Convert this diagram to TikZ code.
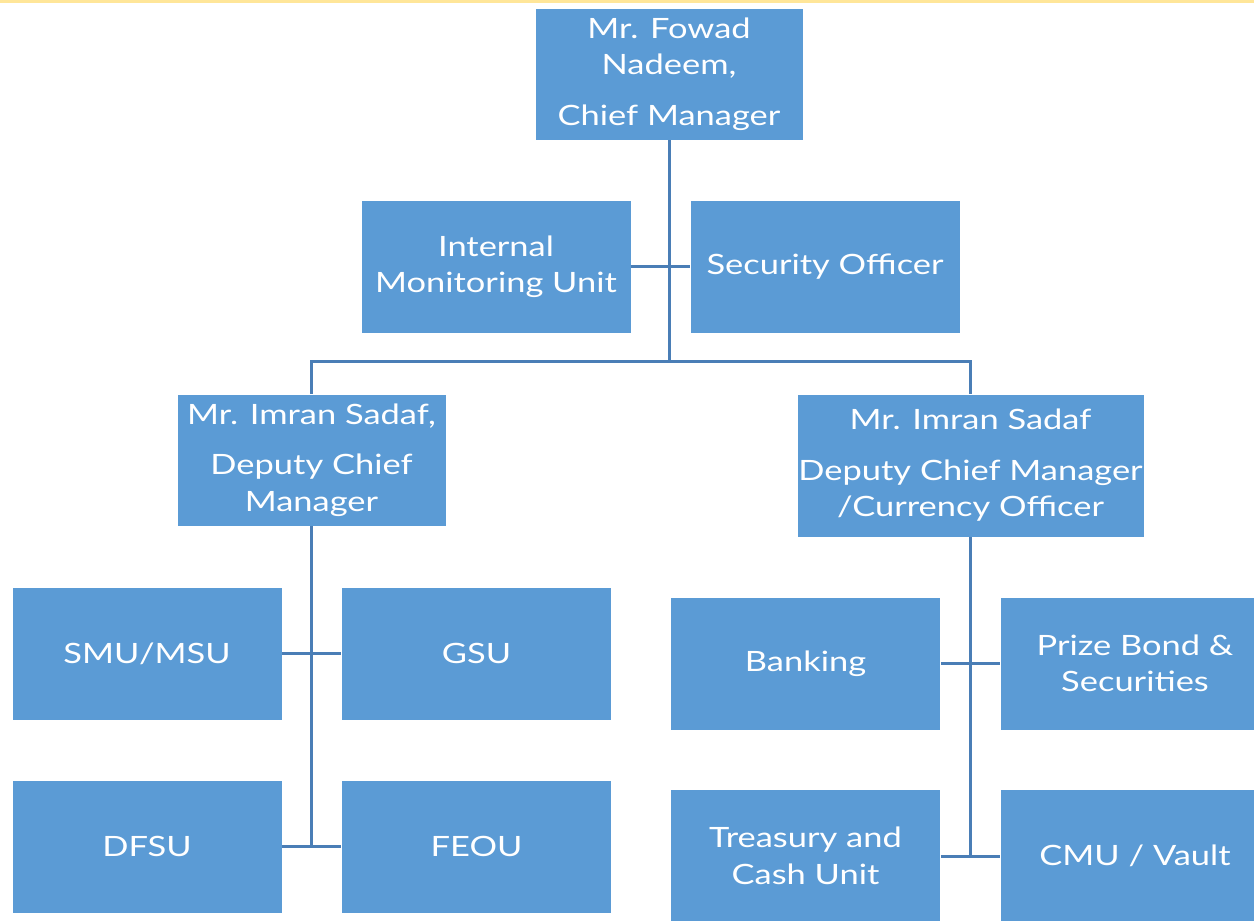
\documentclass[tikz,border=0pt]{standalone}
\usepackage{fontspec}
\setmainfont{Lato}[FakeStretch=1.23]
\definecolor{boxblue}{HTML}{5B9BD5}
\definecolor{lineblue}{HTML}{4A7EB6}
\definecolor{topyellow}{HTML}{FFE699}
\begin{document}
\begin{tikzpicture}[x=1pt,y=-1pt]
        \tikzstyle{unit}=[fill=boxblue,draw=white,line width=0.8pt,text=white,align=center,inner sep=0pt,minimum width=270pt,minimum height=133pt,font=\fontsize{28}{36.5}\selectfont]
        \tikzstyle{link}=[draw=lineblue,line width=3pt]
        \useasboundingbox (0,0) rectangle (1254,921);
        \clip (0,0) rectangle (1254,921);
        \fill[white] (0,0) rectangle (1254,921);
        \draw[topyellow,line width=3pt] (0,1.5) -- (1254,1.5);
        % top level
        \node[unit,minimum width=268pt,minimum height=132pt] (chief) at (669,74) {Mr. Fowad\\Nadeem,\\[14pt]Chief Manager};
        \node[unit] (imu) at (496,266.5) {Internal\\Monitoring Unit};
        \node[unit] (sec) at (825,266.5) {Security Officer};
        \coordinate (split) at (669,361);
        % deputies
        \node[unit,minimum width=269pt,minimum height=132pt] (dleft) at (311.5,460) {Mr. Imran Sadaf,\\[14pt]Deputy Chief\\Manager};
        \node[unit,minimum width=347pt,minimum height=143pt] (dright) at (970.5,465.5) {Mr. Imran Sadaf\\[14pt]Deputy Chief Manager\\/Currency Officer};
        % left units
        \node[unit] (smu) at (147,653.5) {SMU/MSU};
        \node[unit] (gsu) at (476.5,653.5) {GSU};
        \node[unit] (dfsu) at (147,846.5) {DFSU};
        \node[unit] (feou) at (476.5,846.5) {FEOU};
        \coordinate (lend) at (311.5,846.5);
        % right units
        \node[unit] (banking) at (805.5,663.5) {Banking};
        \node[unit] (prize) at (1135,663.5) {Prize Bond \&\\Securities};
        \node[unit] (treasury) at (805.5,856) {Treasury and\\Cash Unit};
        \node[unit] (cmu) at (1135,856) {CMU / Vault};
        \coordinate (rend) at (970.5,856);
        % connectors
        \draw[link] (chief.south) -- (split);
        \draw[link] (imu.east) -- (sec.west);
        \draw[link] (dleft.north) |- (split) -| (dright.north);
        \draw[link] (dleft.south) -- (lend);
        \draw[link] (smu.east) -- (gsu.west);
        \draw[link] (dfsu.east) -- (feou.west);
        \draw[link] (dright.south) -- (rend);
        \draw[link] (banking.east) -- (prize.west);
        \draw[link] (treasury.east) -- (cmu.west);
\end{tikzpicture}
\end{document}
